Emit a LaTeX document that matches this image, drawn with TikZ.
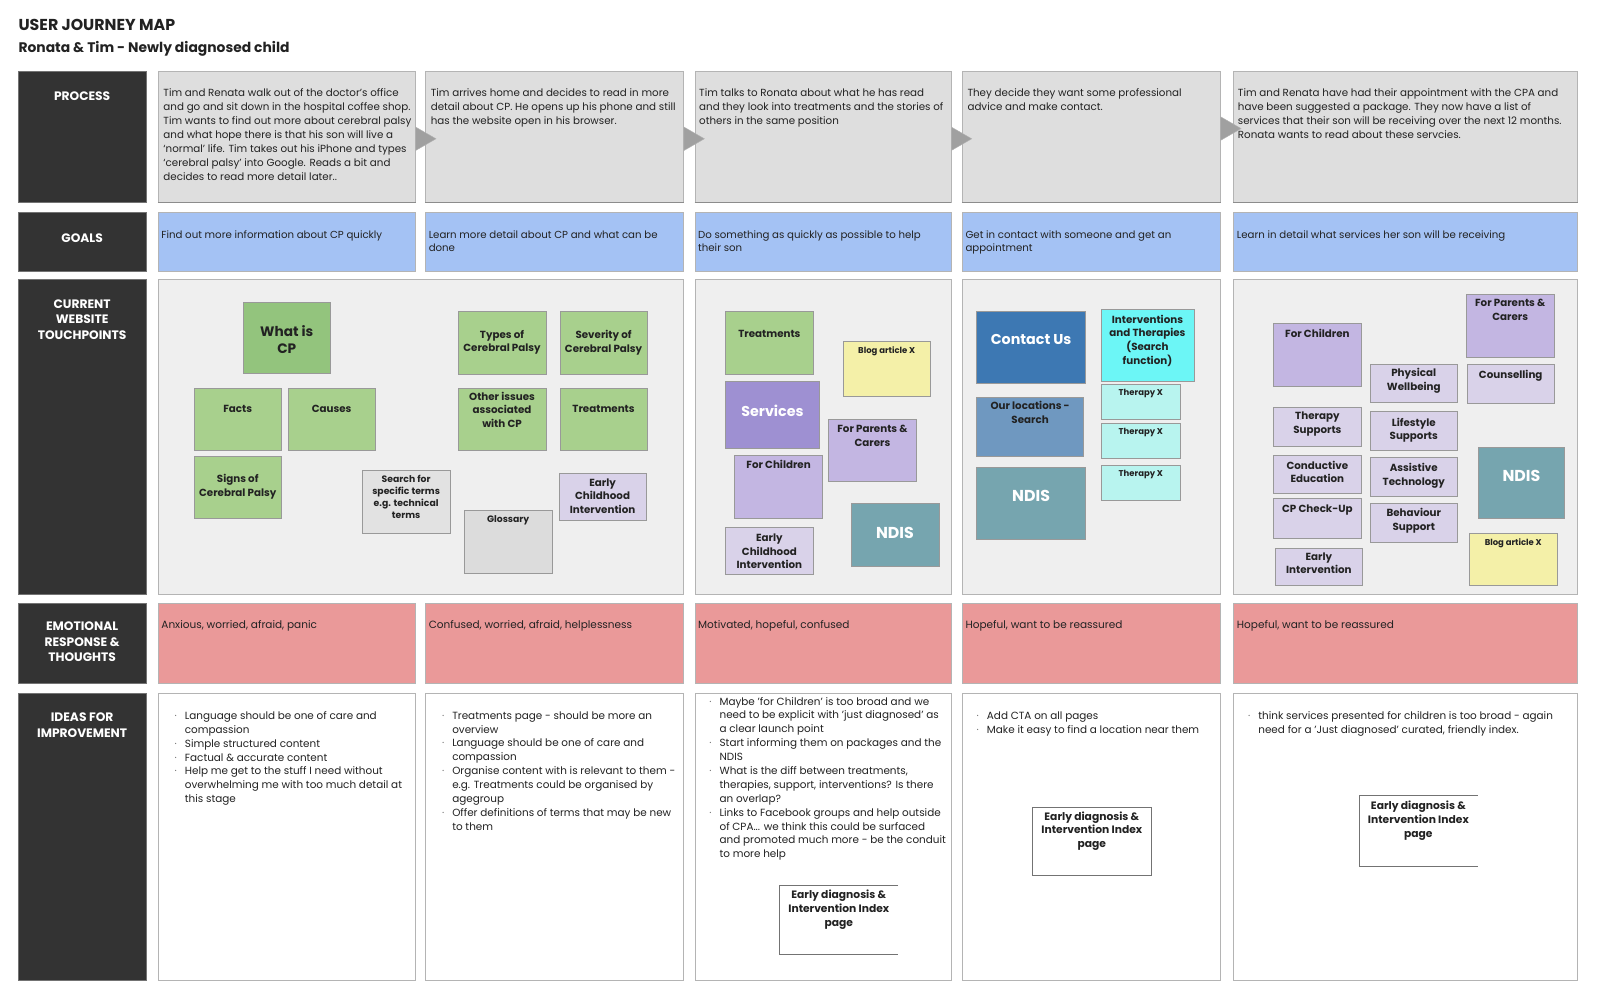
\documentclass[tikz,border=0pt]{standalone}
\usepackage{fontspec}
\setmainfont{Poppins}
\usetikzlibrary{fit,calc}
\definecolor{darklab}{HTML}{333333}
\definecolor{procfill}{HTML}{DEDEDE}
\definecolor{bord}{HTML}{B4B4B4}
\definecolor{goalfill}{HTML}{A4C2F4}
\definecolor{touchfill}{HTML}{EFEFEF}
\definecolor{emofill}{HTML}{EA9999}
\definecolor{arrowfill}{HTML}{A0A0A0}
\definecolor{greenL}{HTML}{A8D08D}
\definecolor{greenD}{HTML}{93C47D}
\definecolor{lav}{HTML}{D9D2E9}
\definecolor{purp}{HTML}{C3B6E2}
\definecolor{serv}{HTML}{9E90D2}
\definecolor{ndisc}{HTML}{76A5AF}
\definecolor{cblue}{HTML}{3D78B3}
\definecolor{lblue}{HTML}{6F98C0}
\definecolor{cyanc}{HTML}{6CF6F6}
\definecolor{tcyan}{HTML}{B8F4EF}
\definecolor{yel}{HTML}{F4F0A8}
\definecolor{lgray}{HTML}{E2E2E2}
\definecolor{lgrayb}{HTML}{DCDCDC}
\definecolor{txt}{HTML}{222222}
\newcommand\rowbox[6]{\node[#2, fit={(#3,#4)(#5,#6)}, inner sep=0pt] (#1) {};}
\newcommand\tcard[9]{\node[card, fill=#2, fit={(#3,#4)(#5,#6)}, inner sep=0pt] (#1) {};
  \node[#8] (#1t) at ({(#3+#5)/2},#7) {#9};}
\newcommand\bl{\makebox[10pt][l]{\textcolor{black!55}{·}}}
\newcommand\ind{\hspace*{10pt}}
\begin{document}
\begin{tikzpicture}[x=1pt,y=-1pt,
  lab/.style={fill=darklab, draw=black!55, line width=0.6pt},
  labtxt/.style={anchor=north, align=center, inner sep=0pt, text=white, font=\fontsize{12}{15.2}\selectfont\bfseries},
  proc/.style={fill=procfill, draw=bord, line width=0.6pt},
  goal/.style={fill=goalfill, draw=bord, line width=0.6pt},
  touch/.style={fill=touchfill, draw=bord, line width=0.6pt},
  emo/.style={fill=emofill, draw=bord, line width=0.6pt},
  idea/.style={fill=white, draw=bord, line width=0.6pt},
  body/.style={anchor=north west, align=left, inner sep=0pt, text=txt, font=\fontsize{10.1}{13.7}\selectfont},
  goaltxt/.style={body, font=\fontsize{10}{13}\selectfont},
  emotxt/.style={body, font=\fontsize{10.3}{13}\selectfont},
  ideatxt/.style={body, font=\fontsize{10.2}{13.6}\selectfont},
  card/.style={draw=black!40, line width=0.5pt},
  ct/.style={anchor=north, align=center, inner sep=0pt, text=txt, font=\fontsize{10.1}{13.3}\selectfont\bfseries},
  cbigw/.style={ct, text=white, font=\fontsize{14}{17}\selectfont\bfseries},
  cndis/.style={ct, text=white, font=\fontsize{15.5}{17}\selectfont\bfseries},
  cbigk/.style={ct, font=\fontsize{13.4}{17}\selectfont\bfseries},
  csearch/.style={ct, font=\fontsize{9.1}{11.8}\selectfont\bfseries},
  cblog/.style={ct, font=\fontsize{8.3}{9}\selectfont\bfseries},
  cther/.style={ct, font=\fontsize{8.3}{9}\selectfont\bfseries},
  cidx/.style={ct, font=\fontsize{10.5}{13.5}\selectfont\bfseries},
  tri/.style={fill=arrowfill, draw=black!30, line width=0.4pt}
]
\useasboundingbox (0,0) rectangle (1568,987);
\fill[white] (0,0) rectangle (1568,987);

% titles
\node[anchor=north west, inner sep=0pt, text=txt, font=\fontsize{15.5}{17}\selectfont\bfseries] (title) at (18,18.5) {USER JOURNEY MAP};
\node[anchor=north west, inner sep=0pt, text=txt, font=\fontsize{13.6}{15}\selectfont\bfseries] (subtitle) at (18,40.5) {Ronata \& Tim - Newly diagnosed child};

% row labels
\rowbox{lproc}{lab}{18}{70}{143}{198}
\rowbox{lgoal}{lab}{18}{208}{143}{266}
\rowbox{ltouch}{lab}{18}{274}{143}{582}
\rowbox{lemo}{lab}{18}{591}{143}{670}
\rowbox{lidea}{lab}{18}{679}{143}{961}
\node[labtxt] (lproct) at (80.5,89.5) {PROCESS};
\node[labtxt] (lgoalt) at (80.5,228.5) {GOALS};
\node[labtxt] (ltoucht) at (80.5,293.5) {CURRENT\\WEBSITE\\TOUCHPOINTS};
\node[labtxt] (lemot) at (80.5,609.5) {EMOTIONAL\\RESPONSE \&\\THOUGHTS};
\node[labtxt] (lideat) at (80.5,698.5) {IDEAS FOR\\IMPROVEMENT};

% process row
\rowbox{p1}{proc}{155}{70}{407}{198}
\rowbox{p2}{proc}{417}{70}{670}{198}
\rowbox{p3}{proc}{681}{70}{932}{198}
\rowbox{p4}{proc}{943}{70}{1196}{198}
\rowbox{p5}{proc}{1209}{70}{1546}{198}
\foreach \b in {p1,p2,p3,p4,p5}{\draw[black!45, line width=1.2pt] (\b.south west) -- (\b.south east);}
\node[body] (p1t) at (160,87) {Tim and Renata walk out of the doctor's office\\and go and sit down in the hospital coffee shop.\\Tim wants to find out more about cerebral palsy\\and what hope there is that his son will live a\\`normal' life. Tim takes out his iPhone and types\\`cerebral palsy' into Google. Reads a bit and\\decides to read more detail later..};
\node[body] (p2t) at (422,87) {Tim arrives home and decides to read in more\\detail about CP. He opens up his phone and still\\has the website open in his browser.};
\node[body] (p3t) at (685,87) {Tim talks to Ronata about what he has read\\and they look into treatments and the stories of\\others in the same position};
\node[body] (p4t) at (948,87) {They decide they want some professional\\advice and make contact.};
\node[body] (p5t) at (1213,87) {Tim and Renata have had their appointment with the CPA and\\have been suggested a package. They now have a list of\\services that their son will be receiving over the next 12 months.\\Ronata wants to read about these servcies.};
\foreach \a/\dy in {p1/2,p2/2,p3/2,p4/-8}{
  \fill[tri] ($(\a.east)+(0,\dy-11.5)$) -- ($(\a.east)+(20,\dy)$) -- ($(\a.east)+(0,\dy+11.5)$) -- cycle;}

% goals row
\rowbox{g1}{goal}{155}{208}{407}{266}
\rowbox{g2}{goal}{417}{208}{670}{266}
\rowbox{g3}{goal}{681}{208}{932}{266}
\rowbox{g4}{goal}{943}{208}{1196}{266}
\rowbox{g5}{goal}{1209}{208}{1546}{266}
\node[goaltxt] (g1t) at (158,226) {Find out more information about CP quickly};
\node[goaltxt] (g2t) at (420,226) {Learn more detail about CP and what can be\\done};
\node[goaltxt] (g3t) at (684,226) {Do something as quickly as possible to help\\their son};
\node[goaltxt] (g4t) at (946,226) {Get in contact with someone and get an\\appointment};
\node[goaltxt] (g5t) at (1212,226) {Learn in detail what services her son will be receiving};

% touchpoints containers
\rowbox{t12}{touch}{155}{274}{670}{582}
\rowbox{t3}{touch}{681}{274}{932}{582}
\rowbox{t4}{touch}{943}{274}{1196}{582}
\rowbox{t5}{touch}{1209}{274}{1546}{582}

% column 1-2 cards
\tcard{whatcp}{greenD}{238}{296}{324}{366}{318.8}{cbigk}{What is\\CP}
\tcard{facts}{greenL}{190}{380}{276}{441}{397}{ct}{Facts}
\tcard{causes}{greenL}{282}{380}{368}{441}{397}{ct}{Causes}
\tcard{signs}{greenL}{190}{447}{276}{508}{465}{ct}{Signs of\\Cerebral Palsy}
\tcard{search}{lgray}{355}{461}{441}{523}{465.8}{csearch}{Search for\\specific terms\\e.g. technical\\terms}
\tcard{gloss}{lgrayb}{455}{500}{541}{562}{504.8}{csearch}{Glossary}
\tcard{types}{greenL}{449}{305}{535}{367}{323.4}{ct}{Types of\\Cerebral Palsy}
\tcard{sever}{greenL}{549}{305}{634}{367}{323.4}{ct}{Severity of\\Cerebral Palsy}
\tcard{other}{greenL}{449}{380}{535}{441}{384}{ct}{Other issues\\associated\\with CP}
\tcard{treata}{greenL}{549}{380}{634}{441}{397}{ct}{Treatments}
\tcard{ecia}{lav}{548}{464}{633}{510}{469}{ct}{Early\\Childhood\\Intervention}

% column 3 cards
\tcard{treatb}{greenL}{711}{305}{797}{367}{323}{ct}{Treatments}
\tcard{bloga}{yel}{826}{334}{912}{388}{339.5}{cblog}{Blog article X}
\tcard{services}{serv}{711}{374}{803}{439}{397}{cbigw}{Services}
\tcard{parentsa}{purp}{812}{411}{898}{472}{416.4}{ct}{For Parents \&\\Carers}
\tcard{childa}{purp}{720}{446}{806}{508}{451}{ct}{For Children}
\tcard{ecib}{lav}{711}{517}{797}{563}{523}{ct}{Early\\Childhood\\Intervention}
\tcard{ndisa}{ndisc}{834}{493}{920}{555}{516}{cndis}{NDIS}

% column 4 cards
\tcard{contact}{cblue}{957}{305}{1064}{376}{327.5}{cbigw}{Contact Us}
\tcard{locs}{lblue}{957}{389}{1062}{447}{393}{ct}{Our locations -\\Search}
\tcard{ndisb}{ndisc}{957}{458}{1064}{528}{480.7}{cndis}{NDIS}
\tcard{interv}{cyanc}{1079}{303}{1170}{374}{308.6}{ct}{Interventions\\and Therapies\\(Search\\function)}
\tcard{thera}{tcyan}{1079}{377}{1157}{411}{381.5}{cther}{Therapy X}
\tcard{therb}{tcyan}{1079}{415}{1157}{449}{419.4}{cther}{Therapy X}
\tcard{therc}{tcyan}{1079}{456}{1157}{490}{460.6}{cther}{Therapy X}

% column 5 cards
\tcard{parentsb}{purp}{1437}{288}{1523}{350}{293.3}{ct}{For Parents \&\\Carers}
\tcard{childb}{purp}{1248}{317}{1334}{379}{322.7}{ct}{For Children}
\tcard{phys}{lav}{1343}{357}{1428}{394}{360.9}{ct}{Physical\\Wellbeing}
\tcard{couns}{lav}{1438}{357}{1523}{395}{362.5}{ct}{Counselling}
\tcard{thersup}{lav}{1248}{399}{1334}{437}{403.7}{ct}{Therapy\\Supports}
\tcard{life}{lav}{1343}{403}{1428}{441}{409.2}{ct}{Lifestyle\\Supports}
\tcard{cond}{lav}{1248}{446}{1334}{483}{451.7}{ct}{Conductive\\Education}
\tcard{assist}{lav}{1343}{448}{1428}{486}{454}{ct}{Assistive\\Technology}
\tcard{check}{lav}{1248}{488}{1334}{527}{494.2}{ct}{CP Check-Up}
\tcard{behav}{lav}{1343}{493}{1428}{531}{498}{ct}{Behaviour\\Support}
\tcard{earlyint}{lav}{1250}{537}{1335}{574}{541.5}{ct}{Early\\Intervention}
\tcard{ndisc}{ndisc}{1449}{438}{1533}{508}{461}{cndis}{NDIS}
\tcard{blogb}{yel}{1440}{523}{1526}{574}{527.3}{cblog}{Blog article X}

% emotional row
\rowbox{e1}{emo}{155}{591}{407}{670}
\rowbox{e2}{emo}{417}{591}{670}{670}
\rowbox{e3}{emo}{681}{591}{932}{670}
\rowbox{e4}{emo}{943}{591}{1196}{670}
\rowbox{e5}{emo}{1209}{591}{1546}{670}
\node[emotxt] (e1t) at (158,607.9) {Anxious, worried, afraid, panic};
\node[emotxt] (e2t) at (420,607.9) {Confused, worried, afraid, helplessness};
\node[emotxt] (e3t) at (684,607.9) {Motivated, hopeful, confused};
\node[emotxt] (e4t) at (946,607.9) {Hopeful, want to be reassured};
\node[emotxt] (e5t) at (1212,607.9) {Hopeful, want to be reassured};

% ideas row
\rowbox{i1}{idea}{155}{679}{407}{961}
\rowbox{i2}{idea}{417}{679}{670}{961}
\rowbox{i3}{idea}{681}{679}{932}{961}
\rowbox{i4}{idea}{943}{679}{1196}{961}
\rowbox{i5}{idea}{1209}{679}{1546}{961}
\node[ideatxt] (i1t) at (171,697) {\bl Language should be one of care and\\\ind compassion\\\bl Simple structured content\\\bl Factual \& accurate content\\\bl Help me get to the stuff I need without\\\ind overwhelming me with too much detail at\\\ind this stage};
\node[ideatxt] (i2t) at (433,697) {\bl Treatments page - should be more an\\\ind overview\\\bl Language should be one of care and\\\ind compassion\\\bl Organise content with is relevant to them -\\\ind e.g. Treatments could be organised by\\\ind agegroup\\\bl Offer definitions of terms that may be new\\\ind to them};
\node[ideatxt] (i3t) at (695,683) {\bl Maybe 'for Children' is too broad and we\\\ind need to be explicit with 'just diagnosed' as\\\ind a clear launch point\\\bl Start informing them on packages and the\\\ind NDIS\\\bl What is the diff between treatments,\\\ind therapies, support, interventions? Is there\\\ind an overlap?\\\bl Links to Facebook groups and help outside\\\ind of CPA... we think this could be surfaced\\\ind and promoted much more - be the conduit\\\ind to more help};
\node[ideatxt] (i4t) at (957,697) {\bl Add CTA on all pages\\\bl Make it easy to find a location near them};
\node[ideatxt] (i5t) at (1223,697) {\bl think services presented for children is too broad - again\\\ind need for a 'Just diagnosed' curated, friendly index.};

% early diagnosis boxes
\node[fit={(764,868)(880,935)}, inner sep=0pt] (ed3) {};
\draw[black!55, line width=0.6pt] (ed3.north east) -- (ed3.north west) -- (ed3.south west) -- (ed3.south east);
\node[cidx] (ed3t) at (822,872) {Early diagnosis \&\\Intervention Index\\page};
\node[fit={(1012,791)(1128,858)}, inner sep=0pt, draw=black!55, line width=0.6pt] (ed4) {};
\node[cidx] (ed4t) at (1070,795) {Early diagnosis \&\\Intervention Index\\page};
\node[fit={(1332,780)(1448,849)}, inner sep=0pt] (ed5) {};
\draw[black!55, line width=0.6pt] (ed5.north east) -- (ed5.north west) -- (ed5.south west) -- (ed5.south east);
\node[cidx] (ed5t) at (1390,785) {Early diagnosis \&\\Intervention Index\\page};
\end{tikzpicture}
\end{document}
